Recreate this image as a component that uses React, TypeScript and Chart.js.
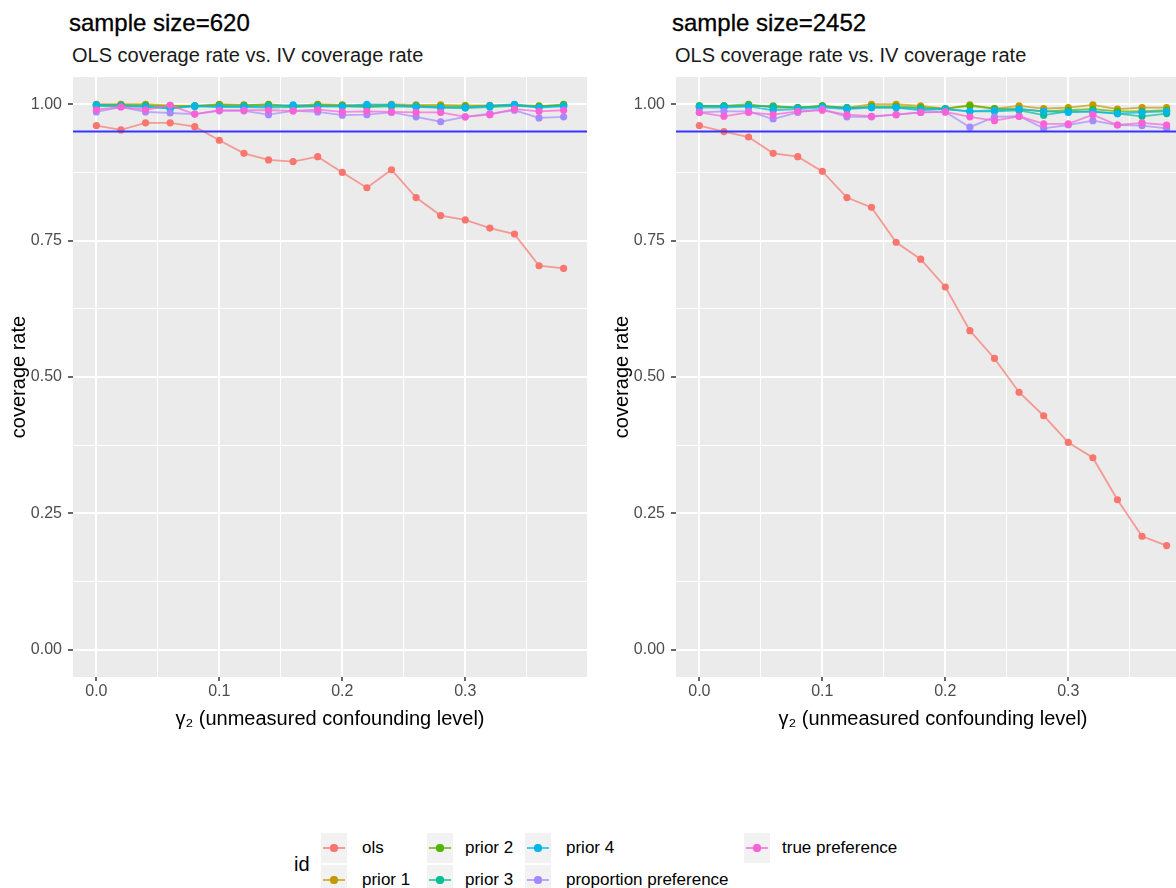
import React, { useEffect, useRef } from 'react';
import { Chart, registerables } from 'chart.js';

Chart.register(...registerables);
Chart.defaults.font.family = '"Liberation Sans", Arial, sans-serif';

// ---------- data ----------
const GAMMA = [0, 0.02, 0.04, 0.06, 0.08, 0.1, 0.12, 0.14, 0.16, 0.18, 0.2, 0.22, 0.24, 0.26, 0.28, 0.3, 0.32, 0.34, 0.36, 0.38];

const SERIES_NAMES = ['ols', 'prior 1', 'prior 2', 'prior 3', 'prior 4', 'proportion preference', 'true preference'];
const SERIES_COLORS = ['#F8766D', '#C49A00', '#53B400', '#00C094', '#00B6EB', '#A58AFF', '#FB61D7'];

// sample size = 620
const N620_OLS = [0.961, 0.953, 0.966, 0.966, 0.959, 0.934, 0.910, 0.898, 0.895, 0.904, 0.875, 0.847, 0.880, 0.829, 0.796, 0.788, 0.773, 0.762, 0.704, 0.699];
const N620_PRIOR1 = [1.000, 1.000, 1.000, 0.998, 0.997, 1.000, 0.999, 0.998, 0.997, 1.000, 0.999, 0.998, 1.000, 0.999, 0.999, 0.998, 0.998, 0.999, 0.997, 0.998];
const N620_PRIOR2 = [0.999, 0.999, 0.998, 0.996, 0.997, 0.999, 0.998, 1.000, 0.996, 0.999, 0.998, 0.996, 0.998, 0.997, 0.996, 0.996, 0.997, 0.998, 0.996, 1.000];
const N620_PRIOR3 = [0.996, 0.997, 0.995, 0.993, 0.996, 0.995, 0.995, 0.994, 0.995, 0.996, 0.996, 0.995, 0.996, 0.995, 0.994, 0.993, 0.995, 0.997, 0.995, 0.998];
const N620_PRIOR4 = [0.999, 0.997, 0.996, 0.992, 0.997, 0.996, 0.996, 0.996, 0.999, 0.996, 0.996, 1.000, 0.999, 0.996, 0.994, 0.994, 0.997, 1.000, 0.994, 0.996];
const N620_PROP = [0.986, 0.995, 0.986, 0.984, 0.982, 0.988, 0.988, 0.981, 0.988, 0.986, 0.980, 0.981, 0.985, 0.977, 0.968, 0.977, 0.983, 0.989, 0.975, 0.977];
const N620_TRUE = [0.990, 0.995, 0.990, 0.998, 0.982, 0.989, 0.989, 0.989, 0.988, 0.990, 0.986, 0.987, 0.986, 0.985, 0.985, 0.977, 0.981, 0.991, 0.987, 0.989];

// sample size = 2452
const N2452_OLS = [0.961, 0.950, 0.940, 0.910, 0.904, 0.877, 0.829, 0.811, 0.747, 0.716, 0.665, 0.585, 0.534, 0.472, 0.429, 0.380, 0.352, 0.275, 0.208, 0.191];
const N2452_PRIOR1 = [0.996, 0.996, 0.996, 0.997, 0.994, 0.997, 0.994, 1.000, 1.000, 0.997, 0.992, 0.999, 0.992, 0.997, 0.992, 0.994, 0.999, 0.991, 0.994, 0.994];
const N2452_PRIOR2 = [0.997, 0.997, 1.000, 0.994, 0.994, 0.997, 0.992, 0.996, 0.996, 0.994, 0.992, 0.997, 0.992, 0.991, 0.987, 0.989, 0.991, 0.987, 0.987, 0.989];
const N2452_PRIOR3 = [0.997, 0.997, 0.997, 0.996, 0.994, 0.996, 0.994, 0.994, 0.994, 0.992, 0.991, 0.987, 0.987, 0.989, 0.980, 0.987, 0.986, 0.983, 0.978, 0.983];
const N2452_PRIOR4 = [0.994, 0.994, 0.996, 0.989, 0.991, 0.994, 0.991, 0.994, 0.994, 0.989, 0.991, 0.987, 0.989, 0.991, 0.987, 0.985, 0.987, 0.983, 0.985, 0.987];
const N2452_PROP = [0.985, 0.987, 0.987, 0.973, 0.985, 0.991, 0.977, 0.977, 0.981, 0.985, 0.986, 0.958, 0.977, 0.978, 0.956, 0.962, 0.970, 0.962, 0.961, 0.956];
const N2452_TRUE = [0.985, 0.978, 0.985, 0.981, 0.987, 0.989, 0.981, 0.978, 0.981, 0.985, 0.986, 0.977, 0.970, 0.978, 0.964, 0.964, 0.981, 0.962, 0.966, 0.962];

const PANEL_620 = [N620_OLS, N620_PRIOR1, N620_PRIOR2, N620_PRIOR3, N620_PRIOR4, N620_PROP, N620_TRUE];
const PANEL_2452 = [N2452_OLS, N2452_PRIOR1, N2452_PRIOR2, N2452_PRIOR3, N2452_PRIOR4, N2452_PROP, N2452_TRUE];

const X_MAJOR_TICKS = [0, 0.1, 0.2, 0.3];
const X_MAJOR_LABELS = ['0.0', '0.1', '0.2', '0.3'];
const X_MINOR_TICKS = [0.05, 0.15, 0.25, 0.35];
const Y_MAJOR_TICKS = [0, 0.25, 0.5, 0.75, 1];
const Y_MAJOR_LABELS = ['0.00', '0.25', '0.50', '0.75', '1.00'];
const Y_MINOR_TICKS = [0.125, 0.375, 0.625, 0.875];
const X_LIMITS = [-0.019, 0.399];
const Y_LIMITS = [-0.05, 1.05];
const THRESHOLD = 0.95;

const SUBTITLE = 'OLS coverage rate vs. IV coverage rate';
const X_TITLE = 'γ₂ (unmeasured confounding level)';
const Y_TITLE = 'coverage rate';
const LEGEND_TITLE = 'id';

// ---------- helpers ----------
const near = (a: number, b: number) => Math.abs(a - b) < 1e-9;
const isIn = (list: number[], v: number) => list.some((t) => near(t, v));
const labelFor = (ticks: number[], labels: string[], v: number) => {
  const i = ticks.findIndex((t) => near(t, v));
  return i >= 0 ? labels[i] : '';
};
const hexA = (hex: string, a: number) => {
  const n = parseInt(hex.slice(1), 16);
  return `rgba(${(n >> 16) & 255},${(n >> 8) & 255},${n & 255},${a})`;
};

const panelBackground = {
  id: 'panelBackground',
  beforeDraw(chart: any) {
    const { ctx, chartArea: a } = chart;
    ctx.save();
    ctx.fillStyle = '#EBEBEB';
    ctx.fillRect(a.left, a.top, a.right - a.left, a.bottom - a.top);
    ctx.restore();
  },
};

const thresholdLine = {
  id: 'thresholdLine',
  afterDatasetsDraw(chart: any) {
    const { ctx, chartArea: a } = chart;
    const y = chart.scales.y.getPixelForValue(THRESHOLD);
    ctx.save();
    ctx.strokeStyle = '#3535FF';
    ctx.lineWidth = 2;
    ctx.beginPath();
    ctx.moveTo(a.left, y);
    ctx.lineTo(a.right, y);
    ctx.stroke();
    ctx.restore();
  },
};

function makeConfig(series: number[][]): any {
  return {
    type: 'line',
    data: {
      datasets: SERIES_NAMES.map((name, i) => ({
        label: name,
        data: GAMMA.map((g, j) => ({ x: g, y: series[i][j] })),
        borderColor: hexA(SERIES_COLORS[i], 0.7),
        backgroundColor: SERIES_COLORS[i],
        pointBackgroundColor: SERIES_COLORS[i],
        pointBorderColor: SERIES_COLORS[i],
        pointBorderWidth: 0,
        pointRadius: 3.6,
        borderWidth: 1.8,
        tension: 0,
        order: SERIES_NAMES.length - 1 - i,
      })),
    },
    options: {
      animation: false,
      responsive: false,
      layout: { padding: { top: 77, right: 13, bottom: 0, left: 0 } },
      plugins: { legend: { display: false }, tooltip: { enabled: false }, title: { display: false } },
      scales: {
        x: {
          type: 'linear',
          min: X_LIMITS[0],
          max: X_LIMITS[1],
          afterBuildTicks: (s: any) => {
            s.ticks = [...X_MAJOR_TICKS, ...X_MINOR_TICKS].sort((a, b) => a - b).map((value) => ({ value }));
          },
          afterFit: (s: any) => {
            s.height = 77;
          },
          border: { display: false },
          grid: {
            color: '#FFFFFF',
            lineWidth: (c: any) => (c.tick && isIn(X_MAJOR_TICKS, c.tick.value) ? 2 : 1),
            drawTicks: true,
            tickLength: 4,
            tickWidth: 1.5,
            tickColor: (c: any) => (c.tick && isIn(X_MAJOR_TICKS, c.tick.value) ? '#333333' : 'rgba(0,0,0,0)'),
          },
          ticks: {
            autoSkip: false,
            maxRotation: 0,
            padding: 1,
            color: '#4D4D4D',
            font: { size: 16 },
            callback: (v: any) => labelFor(X_MAJOR_TICKS, X_MAJOR_LABELS, Number(v)),
          },
          title: {
            display: true,
            text: X_TITLE,
            color: '#000000',
            font: { size: 20 },
            padding: { top: 0, bottom: 23 },
          },
        },
        y: {
          type: 'linear',
          min: Y_LIMITS[0],
          max: Y_LIMITS[1],
          afterBuildTicks: (s: any) => {
            s.ticks = [...Y_MAJOR_TICKS, ...Y_MINOR_TICKS].sort((a, b) => a - b).map((value) => ({ value }));
          },
          afterFit: (s: any) => {
            s.width = 73;
          },
          border: { display: false },
          grid: {
            color: '#FFFFFF',
            lineWidth: (c: any) => (c.tick && isIn(Y_MAJOR_TICKS, c.tick.value) ? 2 : 1),
            drawTicks: true,
            tickLength: 5,
            tickWidth: 1.5,
            tickColor: (c: any) => (c.tick && isIn(Y_MAJOR_TICKS, c.tick.value) ? '#333333' : 'rgba(0,0,0,0)'),
          },
          ticks: {
            autoSkip: false,
            padding: 6,
            color: '#4D4D4D',
            font: { size: 16 },
            callback: (v: any) => labelFor(Y_MAJOR_TICKS, Y_MAJOR_LABELS, Number(v)),
          },
          title: {
            display: true,
            text: Y_TITLE,
            color: '#000000',
            font: { size: 20 },
            padding: { top: 7, bottom: 0 },
          },
        },
      },
    },
    plugins: [panelBackground, thresholdLine],
  };
}

function Panel({ left, title, series }: { left: number; title: string; series: number[][] }) {
  const ref = useRef<HTMLCanvasElement>(null);
  useEffect(() => {
    const chart = new Chart(ref.current as HTMLCanvasElement, makeConfig(series));
    return () => chart.destroy();
  }, [series]);
  return (
    <>
      <div style={{ position: 'absolute', left: left + 69, top: 11, fontSize: 24, lineHeight: '24px', whiteSpace: 'nowrap', color: '#000', WebkitTextStroke: '0.3px #000' }}>
        {title}
      </div>
      <div style={{ position: 'absolute', left: left + 72, top: 45, fontSize: 20, lineHeight: '20px', whiteSpace: 'nowrap', color: '#1a1a1a' }}>
        {SUBTITLE}
      </div>
      <canvas
        ref={ref}
        width={600}
        height={754}
        style={{ position: 'absolute', left, top: 0, width: 600, height: 754 }}
      />
    </>
  );
}

function Legend() {
  const keyX = [334, 440, 538, 757];
  const textX = [362, 465, 566, 782];
  const rowY = [848, 880];
  return (
    <>
      <div style={{ position: 'absolute', left: 294, top: 852, fontSize: 20, lineHeight: '24px', color: '#000' }}>{LEGEND_TITLE}</div>
      {SERIES_NAMES.map((name, i) => {
        const col = Math.floor(i / 2);
        const row = i % 2;
        const kx = keyX[col];
        const ry = rowY[row];
        return (
          <React.Fragment key={name}>
            <div style={{ position: 'absolute', left: kx - 13, top: ry - 15, width: 26, height: 30, background: '#F2F2F2' }} />
            <div style={{ position: 'absolute', left: kx - 11, top: ry - 0.9, width: 22, height: 1.8, background: hexA(SERIES_COLORS[i], 0.7) }} />
            <div style={{ position: 'absolute', left: kx - 3.6, top: ry - 3.6, width: 7.2, height: 7.2, borderRadius: '50%', background: SERIES_COLORS[i] }} />
            <div style={{ position: 'absolute', left: textX[col], top: ry - 10, fontSize: 17, lineHeight: '20px', whiteSpace: 'nowrap', color: '#000' }}>{name}</div>
          </React.Fragment>
        );
      })}
    </>
  );
}

export default function App() {
  return (
    <div
      style={{
        position: 'fixed',
        left: 0,
        top: 0,
        width: 1176,
        height: 888,
        overflow: 'hidden',
        background: '#FFFFFF',
        fontFamily: '"Liberation Sans", Arial, sans-serif',
      }}
    >
      <Panel left={0} title="sample size=620" series={PANEL_620} />
      <Panel left={603} title="sample size=2452" series={PANEL_2452} />
      <Legend />
    </div>
  );
}
